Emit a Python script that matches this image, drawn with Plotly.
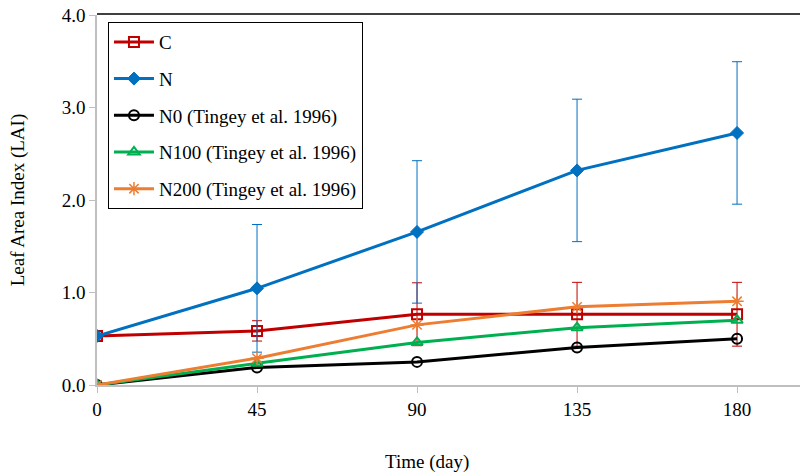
import plotly.graph_objects as go

days = [0, 45, 90, 135, 180]
series_names = ["C", "N", "N0 (Tingey et al. 1996)", "N100 (Tingey et al. 1996)", "N200 (Tingey et al. 1996)"]
c_vals = [0.53, 0.585, 0.765, 0.765, 0.765]
c_err = [0.0, 0.11, 0.34, 0.345, 0.345]
n_vals = [0.53, 1.045, 1.655, 2.32, 2.725]
n_err = [0.0, 0.69, 0.77, 0.77, 0.77]
n0_vals = [0.0, 0.19, 0.25, 0.405, 0.50]
n100_vals = [0.0, 0.235, 0.46, 0.62, 0.70]
n200_vals = [0.0, 0.29, 0.65, 0.845, 0.905]
y_ticks = [0, 1, 2, 3, 4]
x_ticks = [0, 45, 90, 135, 180]

FONT = "Liberation Serif"
FS = 19
colors = ["#c00000", "#0070c0", "#000000", "#00b050", "#ed7d31"]
symbols = ["square-open", "diamond", "circle-open", "triangle-up-open", "asterisk-open"]
sizes = [10, 10, 10, 10, 11]
mlw = [2, 1, 2, 2, 1.5]
values = [c_vals, n_vals, n0_vals, n100_vals, n200_vals]
errors = [c_err, n_err, None, None, None]

fig = go.Figure()
for i, name in enumerate(series_names):
    kw = {}
    if errors[i] is not None:
        kw["error_y"] = dict(type="data", array=errors[i], visible=True,
                             color=colors[i], thickness=1, width=5)
    fig.add_trace(go.Scatter(
        x=days, y=values[i], name=name, mode="lines+markers",
        legendgroup=name,
        line=dict(color=colors[i], width=3),
        marker=dict(symbol=symbols[i], size=sizes[i], color=colors[i],
                    line=dict(color=colors[i], width=mlw[i])),
        **kw))

fig.update_layout(
    width=800, height=474,
    margin=dict(l=97, r=0, t=15, b=89),
    paper_bgcolor="white", plot_bgcolor="white",
    font=dict(family=FONT, size=FS, color="#000000"),
    showlegend=True,
    legend=dict(x=0.0156, y=0.981, xanchor="left", yanchor="top",
                bordercolor="#000000", borderwidth=1, bgcolor="white",
                font=dict(family=FONT, size=FS),
                traceorder="grouped", tracegroupgap=9,
                itemwidth=40),
    xaxis=dict(range=[0, 197.7], tickmode="array", tickvals=x_ticks,
               ticktext=[str(v) for v in x_ticks],
               showgrid=False, zeroline=False, showline=True,
               linecolor="#bfbfbf", linewidth=1.5,
               ticks="outside", ticklen=6, tickcolor="#bfbfbf",
               tickfont=dict(family=FONT, size=FS)),
    yaxis=dict(range=[0, 4], tickmode="array", tickvals=y_ticks,
               ticktext=[f"{v:.1f}" for v in y_ticks],
               showgrid=False, zeroline=False, showline=True,
               linecolor="#bfbfbf", linewidth=1.5,
               ticks="outside", ticklen=6, tickcolor="#bfbfbf",
               tickfont=dict(family=FONT, size=FS)),
    annotations=[
        dict(text="Time (day)", xref="paper", yref="paper", x=0.47, y=-0.207,
             xanchor="center", yanchor="middle", showarrow=False,
             font=dict(family=FONT, size=FS)),
        dict(text="Leaf Area Index (LAI)", xref="paper", yref="paper",
             x=-0.112, y=0.5, textangle=-90, xanchor="center", yanchor="middle",
             showarrow=False, font=dict(family=FONT, size=FS)),
    ],
    shapes=[dict(type="line", xref="paper", yref="paper", x0=0, x1=1, y0=1.003, y1=1.003,
                 line=dict(color="#000000", width=1.5))],
)

fig.write_html("out.html")
